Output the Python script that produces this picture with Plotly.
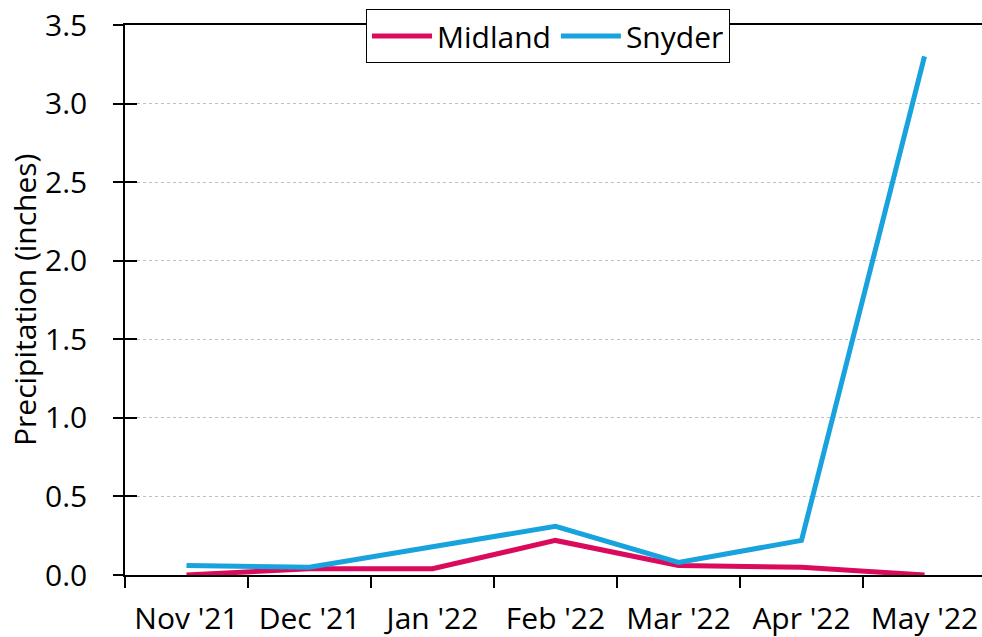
import plotly.graph_objects as go

months = ["Nov '21", "Dec '21", "Jan '22", "Feb '22", "Mar '22", "Apr '22", "May '22"]
midland = [0.0, 0.04, 0.04, 0.22, 0.06, 0.05, 0.0]
snyder = [0.06, 0.05, 0.18, 0.31, 0.08, 0.22, 3.30]
y_ticks = [0.0, 0.5, 1.0, 1.5, 2.0, 2.5, 3.0, 3.5]

FONT = "Open Sans"
FS = 30
W, H = 982, 637
L, T, B = 125, 25, 62

fig = go.Figure()
fig.add_trace(go.Scatter(x=months, y=midland, name="Midland", mode="lines",
                         line=dict(color="#DA0A5C", width=5), cliponaxis=False))
fig.add_trace(go.Scatter(x=months, y=snyder, name="Snyder", mode="lines",
                         line=dict(color="#18A3DE", width=5), cliponaxis=False))
# invisible trace to activate yaxis2 (inner half of crossing ticks)
fig.add_trace(go.Scatter(x=months, y=midland, xaxis="x", yaxis="y2", mode="lines",
                         line=dict(width=0, color="rgba(0,0,0,0)"), showlegend=False,
                         hoverinfo="skip"))

plot_w = W - L
fig.update_layout(
    width=W, height=H,
    margin=dict(l=L, r=0, t=T, b=B, autoexpand=False),
    paper_bgcolor="white", plot_bgcolor="white",
    font=dict(family=FONT, size=FS, color="black"),
    showlegend=True,
    legend=dict(orientation="h", x=(548 - L) / plot_w, xanchor="center",
                y=1 - 9 / H, yanchor="top", yref="container",
                bgcolor="white", bordercolor="black", borderwidth=1,
                font=dict(size=FS), itemwidth=60),
    xaxis=dict(type="category", range=[-0.5, -0.5 + plot_w / 123.0], showline=True,
               linecolor="black", linewidth=1.5, mirror=True, ticks="outside",
               tickson="boundaries", ticklen=11, tickcolor="black", tickwidth=1.5,
               showgrid=False, layer="below traces", tickfont=dict(size=FS),
               automargin=False, ticklabelstandoff=16, ticklabeloverflow="allow"),
    yaxis=dict(range=[0, 3.5], tickvals=y_ticks, ticktext=[f"{v:.1f}" for v in y_ticks],
               showline=True, linecolor="black", linewidth=1.5, ticks="outside",
               ticklen=10, tickcolor="black", tickwidth=1.5,
               showgrid=True, gridcolor="#BFBFBF", griddash="dot", gridwidth=1,
               zeroline=False, layer="below traces", automargin=False,
               ticklabelstandoff=20, ticklabeloverflow="allow",
               tickfont=dict(size=FS)),
    yaxis2=dict(range=[0, 3.5], tickvals=y_ticks, overlaying="y", side="left", anchor="x",
                showticklabels=False, ticks="inside", ticklen=12, tickcolor="black",
                tickwidth=1.5, showgrid=False, showline=False, zeroline=False,
                automargin=False),
    annotations=[dict(text="Precipitation (inches)", textangle=-90, showarrow=False,
                      xref="paper", yref="paper", x=(24 - L) / plot_w, y=0.5,
                      xanchor="center", yanchor="middle", font=dict(size=FS))],
)

fig.write_html("out.html", config={"displayModeBar": False},
               post_script="document.body.style.margin='0';document.body.style.overflow='hidden';")
